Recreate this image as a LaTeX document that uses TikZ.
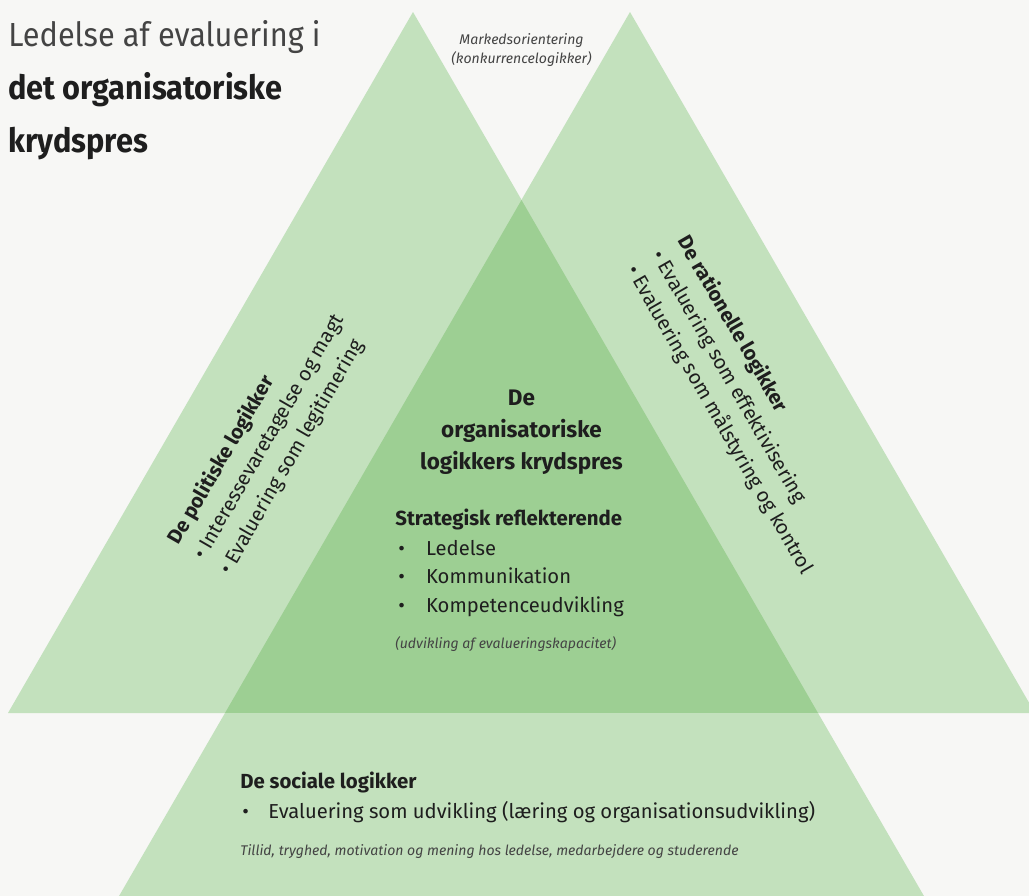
\documentclass[tikz,border=0pt]{standalone}
\usepackage{fontspec}
\setmainfont{Fira Sans}
\newfontfamily\titlefont{Fira Sans}[FakeStretch=0.92]
\usetikzlibrary{positioning}

\definecolor{paper}{HTML}{F7F7F5}
\definecolor{leaf}{HTML}{C3E1BD}
\definecolor{leafdark}{HTML}{9DCF93}
\definecolor{ink}{HTML}{1E1E1E}
\definecolor{inkgrey}{HTML}{444444}

\begin{document}
\begin{tikzpicture}[x=0.02cm, y=-0.02cm,
	every node/.style={inner sep=0pt, text=ink},
	heading/.style={font=\bfseries\fontsize{11.6}{15}\selectfont},
	body/.style={font=\fontsize{11.5}{16}\selectfont},
	note/.style={font=\itshape\fontsize{8}{10.8}\selectfont, text=inkgrey},
	sidelist/.style={font=\fontsize{11.5}{16.8}\selectfont, align=left}]

	% paper and frame
	\fill[paper] (0,0) rectangle (1029,896);
	\useasboundingbox (0,0) rectangle (1029,896);
	\clip (0,0) rectangle (1029,896);

	% the two upper triangles, their overlap and the lower part
	\fill[leaf] (8,713) -- (413,12) -- (818,713) -- cycle;
	\fill[leaf] (225,713) -- (630,12) -- (1035,713) -- cycle;
	\fill[leafdark] (225,713) -- (521.5,200) -- (818,713) -- cycle;
	\fill[leaf] (225,713) -- (818,713) -- (928,903) -- (115,903) -- cycle;

	% title
	\node[anchor=base west, font=\titlefont\fontsize{19}{23}\selectfont, text=inkgrey] (title) at (8,46) {Ledelse af evaluering i};
	\node[anchor=base west, font=\titlefont\bfseries\fontsize{19}{23}\selectfont] (title2) at (8,99) {det organisatoriske};
	\node[anchor=base west, font=\titlefont\bfseries\fontsize{19}{23}\selectfont] (title3) at (8,152) {krydspres};

	\node[note, align=center] (market) at (521.5,50) {Markedsorientering\\(konkurrencelogikker)};

	% middle field
	\node[font=\bfseries\fontsize{12.8}{18.2}\selectfont, align=center] (core) at (521.5,432) {De\\organisatoriske\\logikkers krydspres};
	\node[heading, anchor=base west] (strat) at (395,525) {Strategisk reflekterende};
	\foreach \word [count=\k] in {Ledelse, Kommunikation, Kompetenceudvikling}
		\node[body, anchor=base west] (skill\k) at (398,526.5+28.5*\k) {\makebox[15.8pt][l]{•}\word};
	\node[note, anchor=base west] (capacity) at (395,648) {(udvikling af evalueringskapacitet)};

	% slanted lists
	\node[sidelist, rotate=60] (political) at (269,437) {\textbf{De politiske logikker}\\• Interessevaretagelse og magt\\• Evaluering som legitimering};
	\node[sidelist, rotate=-60] (rational) at (745,405) {\textbf{De rationelle logikker}\\• Evaluering som effektivisering\\• Evaluering som målstyring og kontrol};

	% lower field
	\node[heading, anchor=base west] (social) at (240,788) {De sociale logikker};
	\node[body, anchor=base west] (socialdev) at (242,818) {\makebox[14.8pt][l]{•}Evaluering som udvikling (læring og organisationsudvikling)};
	\node[note, anchor=base west] (trust) at (240,855) {Tillid, tryghed, motivation og mening hos ledelse, medarbejdere og studerende};
\end{tikzpicture}
\end{document}
